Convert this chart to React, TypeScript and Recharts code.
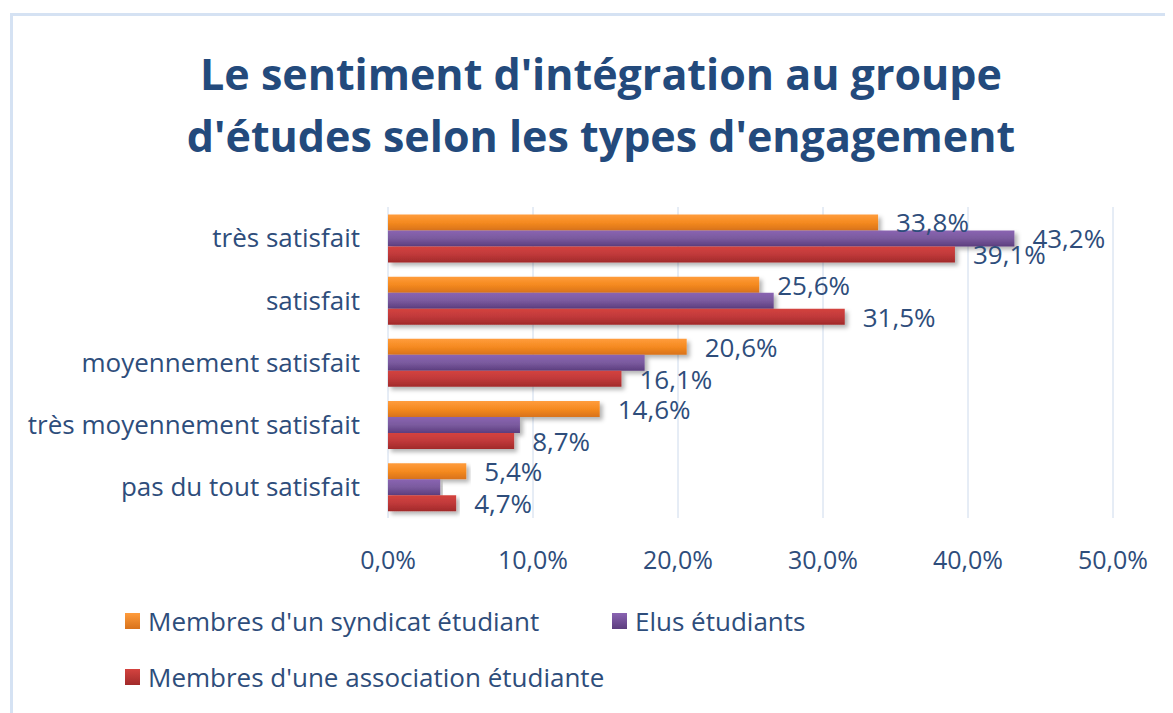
import React from 'react';
import { BarChart, Bar, XAxis, YAxis, CartesianGrid, Legend, LabelList } from 'recharts';

const categories = [
  'très satisfait',
  'satisfait',
  'moyennement satisfait',
  'très moyennement satisfait',
  'pas du tout satisfait',
];
const syndicat = [33.8, 25.6, 20.6, 14.6, 5.4];
const elus = [43.2, 26.6, 17.7, 9.1, 3.6];
const association = [39.1, 31.5, 16.1, 8.7, 4.7];
// Excel only printed the first label of the purple series
const elusLabelShown = [true, false, false, false, false];
const xTicks = [0, 10, 20, 30, 40, 50];

const SERIES = [
  { key: 'syndicat', name: "Membres d'un syndicat étudiant", color: '#f58a20', top: '#ff9c3c', bottom: '#d8721b' },
  { key: 'elus', name: 'Elus étudiants', color: '#7a5a9e', top: '#8a64b2', bottom: '#5c3d7e' },
  { key: 'association', name: "Membres d'une association étudiante", color: '#c0393a', top: '#d4433f', bottom: '#a12a2a' },
];

const data = categories.map((c, i) => ({
  cat: c,
  syndicat: syndicat[i],
  elus: elus[i],
  association: association[i],
}));

const FONT = '"Open Sans", Lato, sans-serif';
const TEXT = '#2e4d7b';

const pct = (v: number) => `${v.toFixed(1).replace('.', ',')}%`;

const makeLabel = (shown?: boolean[]) => (props: any) => {
  const { x, y, width, height, value, index } = props;
  if (shown && !shown[index]) return null;
  return (
    <text
      x={x + width + 18}
      y={y + height / 2}
      fill={TEXT}
      fontSize={26}
      fontFamily={FONT}
      dominantBaseline="central"
    >
      {pct(value)}
    </text>
  );
};

const renderLegend = () => (
  <div style={{ fontFamily: FONT, fontSize: 26, color: TEXT, width: 720 }}>
    <div style={{ display: 'flex', alignItems: 'center', height: 56 }}>
      {SERIES.slice(0, 2).map((s, i) => (
        <div key={s.key} style={{ display: 'flex', alignItems: 'center', width: i === 0 ? 487 : 'auto' }}>
          <span style={{ width: 15, height: 16, background: `linear-gradient(${s.top}, ${s.bottom})`, marginRight: 8 }} />
          {s.name}
        </div>
      ))}
    </div>
    <div style={{ display: 'flex', alignItems: 'center', height: 56 }}>
      <span style={{ width: 15, height: 16, background: `linear-gradient(${SERIES[2].top}, ${SERIES[2].bottom})`, marginRight: 8 }} />
      {SERIES[2].name}
    </div>
  </div>
);

const App: React.FC = () => {
  return (
    <div style={{ position: 'relative', width: 1165, height: 705, overflow: 'hidden', background: '#fff' }}>
      <div
        style={{
          position: 'absolute',
          left: 2,
          top: 5,
          width: 1300,
          height: 800,
          border: '3px solid #d5e2f3',
          boxSizing: 'border-box',
        }}
      />
      <div
        style={{
          position: 'absolute',
          left: 0,
          top: 35,
          width: 1186,
          textAlign: 'center',
          fontFamily: FONT,
          fontWeight: 700,
          fontSize: 43,
          lineHeight: '62px',
          color: '#234a7c',
        }}
      >
        Le sentiment d'intégration au groupe
        <br />
        d'études selon les types d'engagement
      </div>
      <BarChart
        width={1165}
        height={705}
        data={data}
        layout="vertical"
        margin={{ top: 199, right: 60, bottom: 135, left: 0 }}
        barCategoryGap="12%"
        barGap={0}
        style={{ position: 'absolute', left: 0, top: 0 }}
      >
        <defs>
          {SERIES.map((s) => (
            <linearGradient key={s.key} id={`grad-${s.key}`} x1="0" y1="0" x2="0" y2="1">
              <stop offset="0%" stopColor={s.top} />
              <stop offset="50%" stopColor={s.color} />
              <stop offset="100%" stopColor={s.bottom} />
            </linearGradient>
          ))}
          <filter id="barShadow" x="-5%" y="-30%" width="110%" height="180%">
            <feDropShadow dx="3" dy="3" stdDeviation="2" floodColor="#000" floodOpacity="0.3" />
          </filter>
        </defs>
        <CartesianGrid horizontal={false} stroke="#cddaec" />
        <XAxis
          type="number"
          domain={[0, 50]}
          ticks={xTicks}
          tickFormatter={pct}
          axisLine={false}
          tickLine={false}
          tickSize={0}
          tickMargin={33}
          height={60}
          tick={{ fill: TEXT, fontSize: 25, fontFamily: FONT }}
        />
        <YAxis
          type="category"
          dataKey="cat"
          width={380}
          axisLine={false}
          tickLine={false}
          tickSize={0}
          tickMargin={28}
          interval={0}
          tick={{ fill: TEXT, fontSize: 26, fontFamily: FONT }}
        />
        <Legend
          layout="horizontal"
          verticalAlign="middle"
          align="center"
          content={renderLegend}
          wrapperStyle={{ left: 117, top: 585, width: 720 }}
        />
        {SERIES.map((s, i) => (
          <Bar
            key={s.key}
            dataKey={s.key}
            name={s.name}
            fill={`url(#grad-${s.key})`}
            filter="url(#barShadow)"
            isAnimationActive={false}
          >
            <LabelList dataKey={s.key} content={makeLabel(i === 1 ? elusLabelShown : undefined)} />
          </Bar>
        ))}
      </BarChart>
    </div>
  );
};

export default App;
